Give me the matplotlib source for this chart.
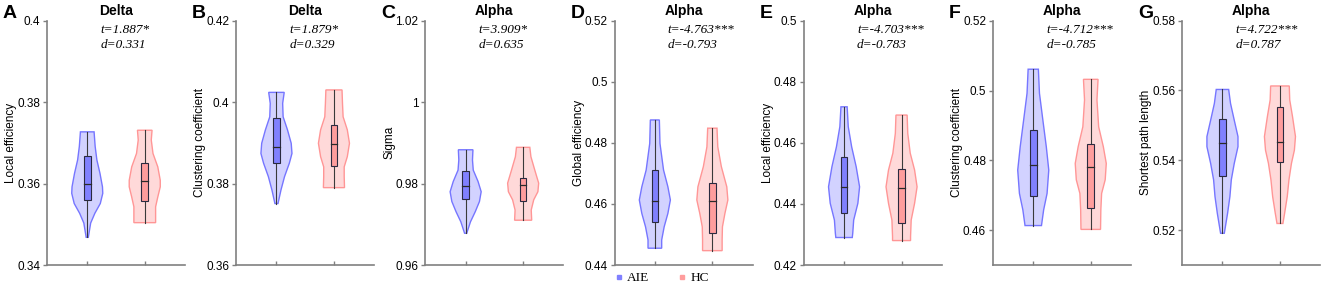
import numpy as np
import matplotlib
matplotlib.use("Agg")
import matplotlib.pyplot as plt
from matplotlib.lines import Line2D

plt.rcParams.update({
    "font.family": ["Liberation Sans", "DejaVu Sans"],
    "axes.edgecolor": "#808080", "axes.linewidth": 1.2,
})

# ----------------------------- data -----------------------------
letters = ["A", "B", "C", "D", "E", "F", "G"]
bands = ["Delta", "Delta", "Alpha", "Alpha", "Alpha", "Alpha", "Alpha"]
metrics = ["Local efficiency", "Clustering coefficient", "Sigma",
           "Global efficiency", "Local efficiency", "Clustering coefficient",
           "Shortest path length"]
t_text = ["1.887*", "1.879*", "3.909*", "-4.763***", "-4.703***", "-4.712***", "4.722***"]
d_text = ["0.331", "0.329", "0.635", "-0.793", "-0.783", "-0.785", "0.787"]
ylims = [(0.34, 0.40), (0.36, 0.42), (0.96, 1.02), (0.44, 0.52),
         (0.42, 0.50), (0.45, 0.52), (0.51, 0.58)]
yticks = [[0.34, 0.36, 0.38, 0.40], [0.36, 0.38, 0.40, 0.42],
          [0.96, 0.98, 1.00, 1.02], [0.44, 0.46, 0.48, 0.50, 0.52],
          [0.42, 0.44, 0.46, 0.48, 0.50], [0.46, 0.48, 0.50, 0.52],
          [0.52, 0.54, 0.56, 0.58]]

# violin outlines: value levels (top -> bottom) and relative half-widths
aie_levels = [
    [0.3727, 0.3691, 0.3658, 0.3625, 0.3592, 0.3576, 0.3551, 0.3527, 0.3503, 0.3468],
    [0.4024, 0.3997, 0.3964, 0.3932, 0.3899, 0.3874, 0.3850, 0.3817, 0.3784, 0.3751],
    [0.9883, 0.9858, 0.9833, 0.9805, 0.9780, 0.9756, 0.9731, 0.9706, 0.9678],
    [0.4875, 0.4798, 0.4711, 0.4656, 0.4613, 0.4569, 0.4525, 0.4482, 0.4455],
    [0.4718, 0.4653, 0.4587, 0.4522, 0.4456, 0.4402, 0.4347, 0.4304, 0.4290],
    [0.5061, 0.4992, 0.4915, 0.4839, 0.4772, 0.4705, 0.4658, 0.4613],
    [0.5603, 0.5563, 0.5515, 0.5468, 0.5439, 0.5391, 0.5344, 0.5296, 0.5248, 0.5191],
]
aie_widths = [
    [0.44, 0.51, 0.62, 0.82, 0.98, 1.00, 0.84, 0.49, 0.22, 0.07],
    [0.50, 0.40, 0.43, 0.71, 0.95, 1.00, 0.83, 0.52, 0.29, 0.10],
    [0.47, 0.44, 0.49, 0.80, 1.00, 0.89, 0.62, 0.31, 0.07],
    [0.29, 0.33, 0.56, 0.84, 1.00, 0.84, 0.60, 0.44, 0.44],
    [0.20, 0.27, 0.49, 0.78, 1.00, 0.89, 0.62, 0.56, 0.53],
    [0.33, 0.40, 0.62, 0.84, 1.00, 0.89, 0.67, 0.53],
    [0.40, 0.52, 0.76, 1.00, 1.00, 0.76, 0.57, 0.48, 0.33, 0.12],
]
aie_box = [  # q1, median, q3
    [0.3560, 0.3600, 0.3667], [0.3850, 0.3891, 0.3962], [0.9761, 0.9795, 0.9831],
    [0.4541, 0.4609, 0.4711], [0.4371, 0.4456, 0.4553], [0.4699, 0.4786, 0.4887],
    [0.5355, 0.5450, 0.5517],
]
hc_levels = [
    [0.3731, 0.3707, 0.3674, 0.3641, 0.3608, 0.3592, 0.3567, 0.3543, 0.3510, 0.3504],
    [0.4030, 0.3997, 0.3964, 0.3932, 0.3899, 0.3866, 0.3841, 0.3817, 0.3790],
    [0.9889, 0.9866, 0.9833, 0.9801, 0.9780, 0.9760, 0.9735, 0.9710],
    [0.4848, 0.4787, 0.4722, 0.4656, 0.4613, 0.4569, 0.4525, 0.4482, 0.4447],
    [0.4691, 0.4631, 0.4566, 0.4511, 0.4456, 0.4402, 0.4347, 0.4293, 0.4280],
    [0.5032, 0.4973, 0.4896, 0.4839, 0.4791, 0.4744, 0.4705, 0.4658, 0.4602],
    [0.5613, 0.5573, 0.5525, 0.5468, 0.5429, 0.5391, 0.5344, 0.5296, 0.5248, 0.5219],
]
hc_widths = [
    [0.47, 0.42, 0.53, 0.84, 1.00, 1.00, 0.84, 0.70, 0.70, 0.70],
    [0.52, 0.55, 0.59, 0.86, 1.00, 0.86, 0.66, 0.66, 0.68],
    [0.43, 0.50, 0.75, 1.00, 0.95, 0.68, 0.52, 0.55],
    [0.30, 0.35, 0.58, 0.93, 1.00, 0.81, 0.65, 0.63, 0.63],
    [0.36, 0.40, 0.56, 0.84, 1.00, 0.84, 0.62, 0.58, 0.58],
    [0.47, 0.40, 0.51, 0.81, 1.00, 0.93, 0.70, 0.65, 0.63],
    [0.60, 0.63, 0.81, 1.00, 0.93, 0.74, 0.58, 0.47, 0.30, 0.19],
]
hc_box = [
    [0.3556, 0.3606, 0.3651], [0.3844, 0.3897, 0.3943], [0.9757, 0.9796, 0.9814],
    [0.4506, 0.4609, 0.4670], [0.4338, 0.4453, 0.4513], [0.4664, 0.4782, 0.4846],
    [0.5396, 0.5453, 0.5552],
]

# ----------------------------- style -----------------------------
AIE = dict(face="#d2d2ff", edge="#7676ff", box="#8080ff")
HC = dict(face="#ffd9d9", edge="#ff9696", box="#ff9d9d")
VW, BW = 0.27, 0.058


def violin(ax, x, levels, widths, box, c):
    lv = np.asarray(levels)
    hw = np.asarray(widths) * VW
    xs = np.concatenate([x - hw, (x + hw)[::-1]])
    ys = np.concatenate([lv, lv[::-1]])
    ax.fill(xs, ys, facecolor=c["face"], edgecolor=c["edge"], lw=1.0, zorder=2)
    ax.plot([x, x], [lv.min(), lv.max()], color="#3a3a3a", lw=0.8, zorder=3)
    q1, med, q3 = box
    ax.add_patch(plt.Rectangle((x - BW, q1), 2 * BW, q3 - q1, facecolor=c["box"],
                               edgecolor="#2a2a40", lw=0.8, zorder=4))
    ax.plot([x - BW, x + BW], [med, med], color="#2a2a2a", lw=0.9, zorder=5)


W, H = 1325, 287
fig = plt.figure(figsize=(W / 100, H / 100), dpi=100)

for i in range(7):
    left = 47 + i * 189.2
    ax = fig.add_axes([left / W, 22 / H, 138 / W, 244.3 / H])
    violin(ax, 1, aie_levels[i], aie_widths[i], aie_box[i], AIE)
    violin(ax, 2, hc_levels[i], hc_widths[i], hc_box[i], HC)
    ax.set_xlim(0.3, 2.7)
    ax.set_ylim(*ylims[i])
    ax.set_yticks(yticks[i])
    ax.set_yticklabels([f"{v:g}" for v in yticks[i]])
    ax.set_xticks([1, 2])
    ax.set_xticklabels([])
    ax.spines[["top", "right"]].set_visible(False)
    ax.tick_params(axis="y", direction="out", length=3, width=1, color="#808080",
                   labelsize=8.5, pad=2)
    ax.tick_params(axis="x", direction="in", length=3, width=1, color="#808080")
    ax.set_ylabel(metrics[i], fontsize=8.5, labelpad=0)
    ax.set_title(bands[i], fontsize=10, fontweight="bold", pad=4)
    ax.text(0.385, 0.962, f"t={t_text[i]}", transform=ax.transAxes, ha="left",
            va="center", family="Liberation Serif", style="italic", fontsize=9.5)
    ax.text(0.385, 0.90, f"d={d_text[i]}", transform=ax.transAxes, ha="left",
            va="center", family="Liberation Serif", style="italic", fontsize=9.5)
    fig.text((left - 44) / W, 1 - 14 / H, letters[i], fontsize=14, fontweight="bold",
             ha="left", va="center")
    if i == 3:
        handles = [Line2D([], [], ls="", marker="s", ms=3, color=AIE["box"]),
                   Line2D([], [], ls="", marker="s", ms=3, color=HC["box"])]
        fig.legend(handles, ["AIE", "HC"], loc="center", ncol=2, frameon=False,
                   bbox_to_anchor=(662 / W, 1 - 278 / H), handlelength=0.6,
                   handletextpad=0.3, columnspacing=2.2,
                   prop={"family": "Liberation Serif", "size": 9.5})

fig.savefig("out.png", dpi=100)
